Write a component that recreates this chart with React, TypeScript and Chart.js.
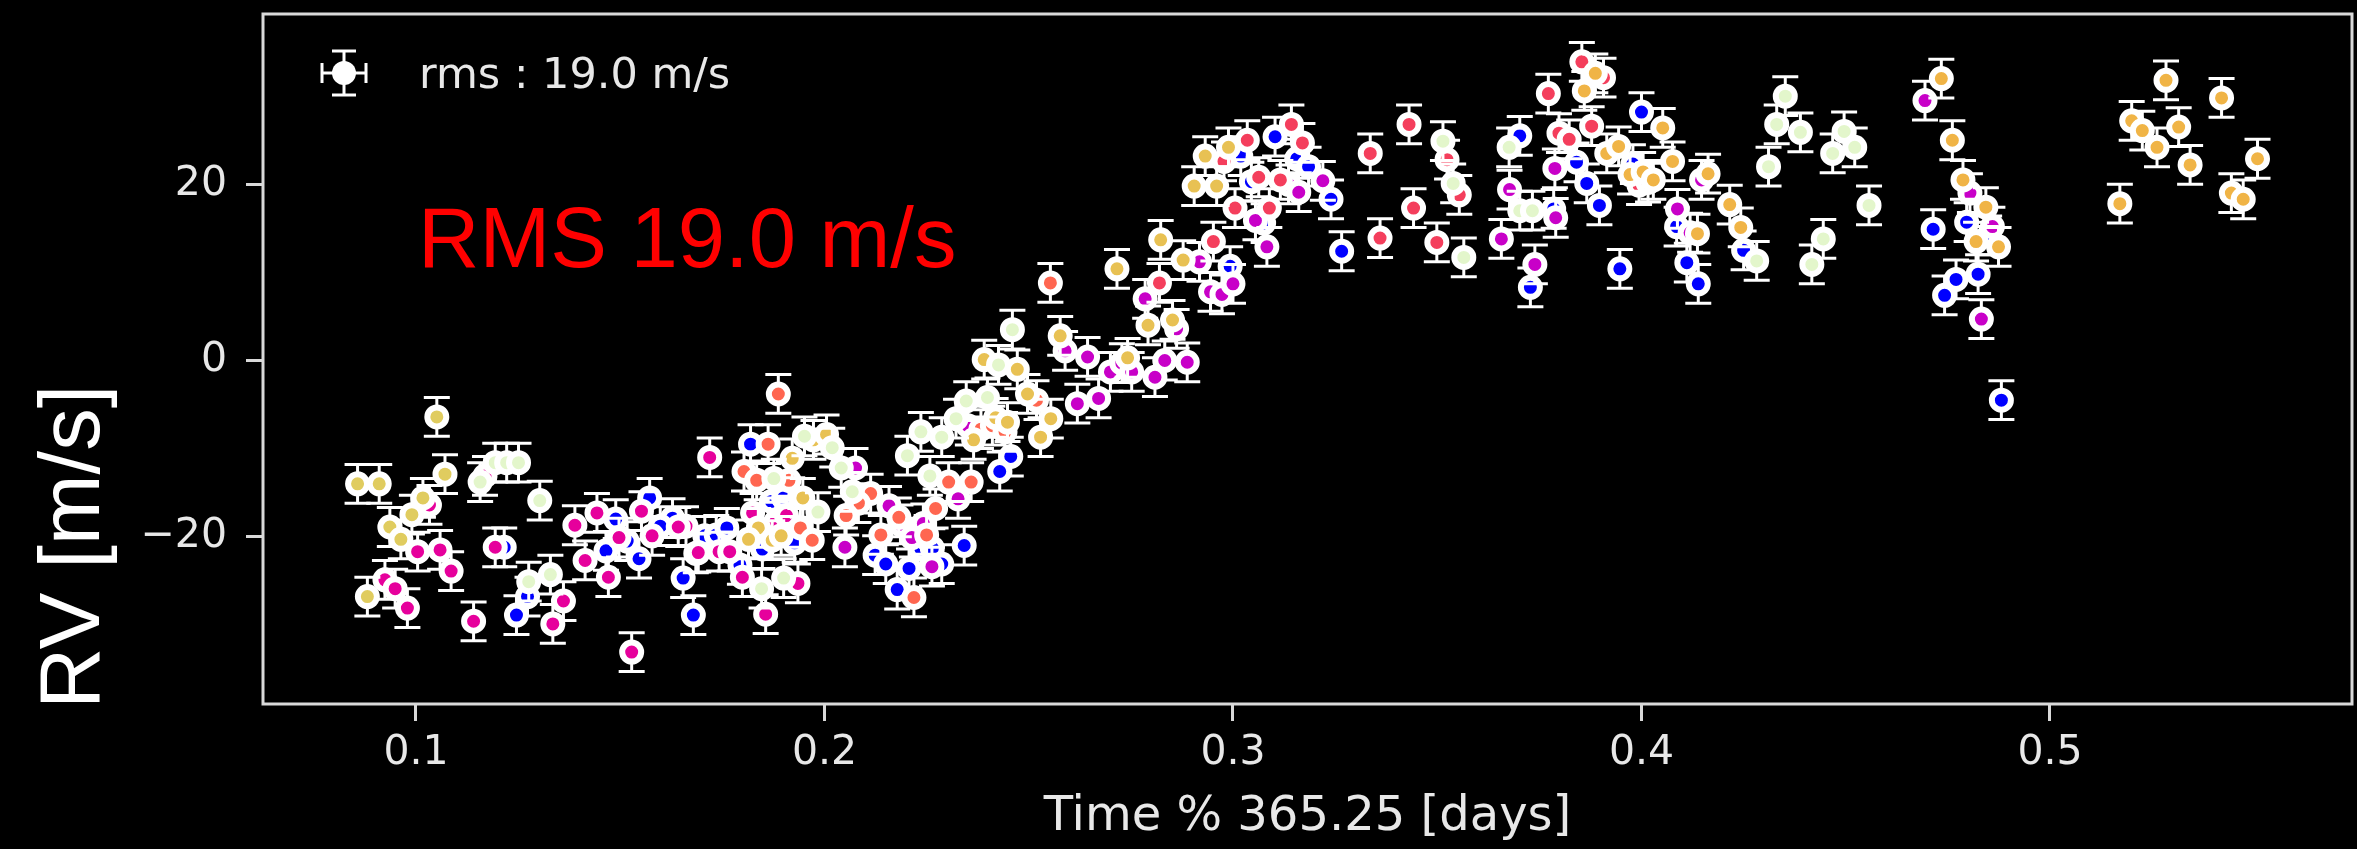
import React, { useEffect, useRef } from 'react';
import { Chart, registerables } from 'chart.js';

Chart.register(...registerables);

// ---- axes ----
const X_TICKS = [0.1, 0.2, 0.3, 0.4, 0.5];
const Y_TICKS = [-20, 0, 20];
const X_MIN = 0.06255;
const X_MAX = 0.57393;
const Y_MIN = -38.99;
const Y_MAX = 39.33;

// ---- texts ----
const X_TITLE = 'Time % 365.25 [days]';
const Y_TITLE = 'RV [m/s]';
const LEGEND_LABEL = 'rms : 19.0 m/s';
const NOTE = 'RMS 19.0 m/s';

// half length of the RV error bars [m/s]
const RV_ERR = 2.2;

// ---- data (time % 365.25, RV) grouped by marker colour ----
const paleGreenTime = [0.1194, 0.1222, 0.1251, 0.1157, 0.1303, 0.1329, 0.1276, 0.246, 0.2426, 0.2347, 0.2399, 0.2322, 0.2236, 0.2287, 0.2203, 0.2258, 0.2041, 0.2068, 0.1951, 0.2019, 0.1876, 0.1984, 0.1846, 0.19, 0.3514, 0.3539, 0.3565, 0.3676, 0.3702, 0.3733, 0.4282, 0.4352, 0.4331, 0.4311, 0.4389, 0.4496, 0.4522, 0.4468, 0.4557, 0.4445, 0.4417];
const paleGreenRv = [-11.6, -11.6, -11.6, -13.8, -15.9, -24.3, -25.1, 3.5, -0.5, -4.6, -4.2, -6.6, -8.1, -8.7, -10.8, -13.1, -12.2, -14.9, -8.6, -9.9, -13.4, -17.2, -25.9, -24.7, 24.9, 20.1, 11.7, 24.2, 17.0, 17.0, 11.3, 30.0, 26.8, 22.0, 25.9, 26.0, 24.2, 23.5, 17.6, 13.8, 10.9];

const yellowTime = [0.1051, 0.0857, 0.091, 0.1071, 0.1017, 0.099, 0.0936, 0.0963, 0.0881];
const yellowRv = [-6.4, -14.0, -14.0, -12.9, -15.6, -17.5, -18.9, -20.3, -26.8];

const goldATime = [0.2391, 0.2472, 0.2497, 0.2554, 0.2529, 0.2419, 0.2448, 0.2365, 0.1973, 0.2005, 0.1921, 0.1947, 0.1838, 0.1814, 0.1872, 0.1894, 0.2716, 0.2577, 0.2742, 0.2792, 0.2852, 0.2823, 0.2878, 0.2905, 0.296, 0.2932, 0.2989];
const goldARv = [0.1, -1.0, -3.8, -6.6, -8.7, -6.5, -7.0, -9.0, -9.0, -8.4, -11.1, -15.6, -19.0, -20.3, -20.4, -19.9, 10.4, 2.8, 0.3, 4.0, 4.6, 13.7, 11.4, 19.8, 19.8, 23.2, 24.2];

const goldBTime = [0.3887, 0.386, 0.3915, 0.3944, 0.3972, 0.4004, 0.4029, 0.4052, 0.4076, 0.4163, 0.4137, 0.4216, 0.4243, 0.4734, 0.4761, 0.4787, 0.4843, 0.4819, 0.4874, 0.5171, 0.5284, 0.542, 0.52, 0.5226, 0.5315, 0.5262, 0.5343, 0.5508, 0.5444, 0.5473];
const goldBRv = [32.6, 30.6, 23.5, 24.3, 21.1, 21.4, 20.5, 26.4, 22.6, 21.2, 14.4, 17.7, 15.1, 32.0, 25.0, 20.5, 17.4, 13.5, 12.9, 17.8, 31.8, 29.8, 27.2, 26.1, 26.5, 24.2, 22.2, 22.9, 19.0, 18.3];

const salmonTime = [0.1887, 0.2553, 0.2519, 0.2383, 0.2411, 0.2442, 0.2304, 0.2359, 0.2272, 0.225, 0.2182, 0.2138, 0.2219, 0.2113, 0.2083, 0.2053, 0.1862, 0.1803, 0.1834, 0.1913, 0.1941, 0.197];
const salmonRv = [-3.8, 8.8, -4.5, -7.8, -7.4, -8.1, -13.8, -13.8, -16.8, -19.8, -17.8, -19.8, -26.9, -15.1, -16.2, -17.6, -9.5, -12.6, -13.6, -13.6, -19.0, -20.4];

const redTime = [0.282, 0.2952, 0.2978, 0.3005, 0.3035, 0.3063, 0.3089, 0.3143, 0.317, 0.3116, 0.3336, 0.3431, 0.3442, 0.336, 0.3524, 0.3554, 0.3499, 0.3772, 0.3854, 0.3907, 0.3878, 0.3798, 0.3823, 0.3994, 0.4016];
const redRv = [8.8, 13.5, 22.6, 17.3, 25.0, 20.8, 17.3, 26.8, 24.7, 20.5, 23.5, 26.8, 17.3, 13.9, 22.8, 18.8, 13.4, 30.3, 33.9, 32.1, 26.6, 25.8, 25.1, 19.9, 20.2];

const pinkTime = [0.1169, 0.1033, 0.1004, 0.1059, 0.1086, 0.0924, 0.0949, 0.0979, 0.1141, 0.1194, 0.1361, 0.1335, 0.1528, 0.1389, 0.1443, 0.1552, 0.1661, 0.1642, 0.1497, 0.1578, 0.1414, 0.1471, 0.1685, 0.1719, 0.1824, 0.1881, 0.1907, 0.1799, 0.1935, 0.1856, 0.1691, 0.1742, 0.1768];
const pinkRv = [-13.1, -16.4, -21.7, -21.5, -23.9, -24.9, -25.9, -28.1, -29.6, -21.2, -27.3, -29.9, -33.1, -18.7, -17.3, -17.1, -18.8, -18.9, -20.1, -19.9, -22.7, -24.6, -21.9, -11.0, -17.3, -18.3, -17.6, -24.6, -25.3, -28.8, -21.8, -21.7, -21.7];

const magentaTime = [0.2351, 0.2327, 0.2242, 0.2186, 0.2158, 0.2214, 0.2263, 0.2076, 0.205, 0.2589, 0.2644, 0.27, 0.2728, 0.2752, 0.2809, 0.2833, 0.2888, 0.2619, 0.2671, 0.2862, 0.2785, 0.2918, 0.2945, 0.2973, 0.3, 0.3055, 0.3083, 0.3136, 0.3161, 0.322, 0.3788, 0.3677, 0.379, 0.3657, 0.3739, 0.4147, 0.4088, 0.4119, 0.4694, 0.4804, 0.4859, 0.4832];
const magentaRv = [-7.4, -15.7, -18.5, -18.6, -16.5, -20.1, -23.4, -12.2, -21.2, 1.1, 0.4, -1.3, -0.3, -1.3, -1.9, 0.0, -0.2, -4.9, -4.3, 3.6, 7.0, 11.2, 7.8, 7.5, 8.7, 15.9, 12.9, 20.0, 19.1, 20.4, 21.8, 19.4, 16.2, 13.8, 10.9, 20.5, 17.2, 14.5, 29.5, 19.0, 15.2, 4.7];

const blueTime = [0.1216, 0.1273, 0.1246, 0.1489, 0.1572, 0.1628, 0.1598, 0.1517, 0.1465, 0.1546, 0.1654, 0.1679, 0.2456, 0.2429, 0.2342, 0.2236, 0.2264, 0.2124, 0.215, 0.2207, 0.2287, 0.2178, 0.1819, 0.187, 0.19, 0.1927, 0.1848, 0.1793, 0.1707, 0.1735, 0.1761, 0.2993, 0.3019, 0.3045, 0.3075, 0.3103, 0.3156, 0.3185, 0.324, 0.3266, 0.3702, 0.3785, 0.3728, 0.3841, 0.3866, 0.3897, 0.3979, 0.4, 0.4086, 0.4111, 0.4139, 0.425, 0.3947, 0.4796, 0.4851, 0.4714, 0.4824, 0.477, 0.4742, 0.4881];
const blueRv = [-21.2, -26.8, -28.9, -18.0, -15.6, -17.9, -18.8, -20.5, -21.6, -22.5, -24.7, -28.9, -10.9, -12.6, -21.0, -21.4, -21.3, -22.1, -23.1, -23.6, -23.1, -26.0, -9.5, -16.0, -15.6, -20.7, -21.4, -23.2, -19.9, -19.8, -19.0, 10.7, 23.2, 20.3, 15.6, 25.4, 22.9, 22.0, 18.3, 12.4, 25.5, 17.2, 8.3, 22.5, 20.1, 17.6, 22.3, 28.2, 15.2, 11.1, 8.7, 12.5, 10.4, 15.7, 14.2, 14.9, 9.8, 9.2, 7.4, -4.5];

const SERIES = [
  { name: 'paleGreen', color: '#e3f6cb', time: paleGreenTime, rv: paleGreenRv },
  { name: 'yellow', color: '#e0cc5f', time: yellowTime, rv: yellowRv },
  { name: 'goldA', color: '#e8c153', time: goldATime, rv: goldARv },
  { name: 'goldB', color: '#f0b446', time: goldBTime, rv: goldBRv },
  { name: 'salmon', color: '#ff6650', time: salmonTime, rv: salmonRv },
  { name: 'red', color: '#f43e5c', time: redTime, rv: redRv },
  { name: 'pink', color: '#e6009c', time: pinkTime, rv: pinkRv },
  { name: 'magenta', color: '#c800c8', time: magentaTime, rv: magentaRv },
  { name: 'blue', color: '#0000ff', time: blueTime, rv: blueRv },
];

const FRAME_COLOR = '#d9d9d9';
const TEXT_COLOR = '#e8e8e8';
const CAP_HALF = 13;

const errorBarPlugin = {
  id: 'errorBars',
  beforeDatasetDraw(chart: any, args: any) {
    const ds = chart.data.datasets[args.index];
    const xs = chart.scales.x;
    const ys = chart.scales.y;
    const ctx = chart.ctx;
    ctx.save();
    ctx.strokeStyle = '#ffffff';
    ctx.lineWidth = 3;
    ds.data.forEach((p: any) => {
      const px = xs.getPixelForValue(p.x);
      const top = ys.getPixelForValue(p.y + RV_ERR);
      const bot = ys.getPixelForValue(p.y - RV_ERR);
      ctx.beginPath();
      ctx.moveTo(px, top);
      ctx.lineTo(px, bot);
      ctx.moveTo(px - CAP_HALF, top);
      ctx.lineTo(px + CAP_HALF, top);
      ctx.moveTo(px - CAP_HALF, bot);
      ctx.lineTo(px + CAP_HALF, bot);
      ctx.stroke();
    });
    ctx.restore();
  },
};

const decorPlugin = {
  id: 'decor',
  afterDraw(chart: any) {
    const ctx = chart.ctx;
    const a = chart.chartArea;
    ctx.save();
    // frame
    ctx.strokeStyle = FRAME_COLOR;
    ctx.lineWidth = 3;
    ctx.strokeRect(a.left, a.top, a.right - a.left, a.bottom - a.top);

    // legend handle (errorbar marker)
    const lx = a.left + 81;
    const ly = a.top + 59;
    ctx.strokeStyle = '#ffffff';
    ctx.lineWidth = 3;
    ctx.beginPath();
    ctx.moveTo(lx, ly - 22);
    ctx.lineTo(lx, ly + 22);
    ctx.moveTo(lx - 12, ly - 22);
    ctx.lineTo(lx + 12, ly - 22);
    ctx.moveTo(lx - 12, ly + 22);
    ctx.lineTo(lx + 12, ly + 22);
    ctx.moveTo(lx - 22, ly);
    ctx.lineTo(lx + 22, ly);
    ctx.moveTo(lx - 22, ly - 10);
    ctx.lineTo(lx - 22, ly + 10);
    ctx.moveTo(lx + 22, ly - 10);
    ctx.lineTo(lx + 22, ly + 10);
    ctx.stroke();
    ctx.fillStyle = '#ffffff';
    ctx.beginPath();
    ctx.arc(lx, ly, 12, 0, Math.PI * 2);
    ctx.fill();

    ctx.fillStyle = TEXT_COLOR;
    ctx.font = '43px "DejaVu Sans"';
    ctx.textAlign = 'left';
    ctx.textBaseline = 'alphabetic';
    ctx.fillText(LEGEND_LABEL, a.left + 156, a.top + 74);

    // red annotation
    ctx.fillStyle = '#ff0000';
    ctx.font = '85px "Liberation Sans"';
    ctx.fillText(NOTE, 418, 267);

    // y title
    ctx.save();
    ctx.translate(99, 709);
    ctx.rotate(-Math.PI / 2);
    ctx.fillStyle = '#ffffff';
    ctx.font = '85px "Liberation Sans"';
    ctx.textAlign = 'left';
    ctx.fillText(Y_TITLE, 0, 0);
    ctx.restore();

    // x title
    ctx.fillStyle = TEXT_COLOR;
    ctx.font = '48px "DejaVu Sans"';
    ctx.textAlign = 'center';
    ctx.textBaseline = 'alphabetic';
    ctx.fillText(X_TITLE, (a.left + a.right) / 2, 830);
    ctx.restore();
  },
};

function fmtY(v: number): string {
  return v < 0 ? '\u2212' + Math.abs(v) : String(v);
}

export default function App() {
  const ref = useRef<HTMLCanvasElement | null>(null);

  useEffect(() => {
    const canvas = ref.current;
    if (!canvas) return;
    const tickFont = { family: '"DejaVu Sans"', size: 41 };
    const gridOpts = {
      display: true,
      drawOnChartArea: false,
      drawTicks: true,
      tickLength: 17,
      tickWidth: 3,
      tickColor: FRAME_COLOR,
    };
    const chart = new Chart(canvas, {
      type: 'scatter',
      data: {
        datasets: SERIES.map((s) => ({
          label: s.name,
          data: s.time.map((t, i) => ({ x: t, y: s.rv[i] })),
          backgroundColor: s.color,
          borderColor: '#ffffff',
          pointRadius: 9.5,
          pointHoverRadius: 9.5,
          pointBorderWidth: 6,
          pointHoverBorderWidth: 6,
          showLine: false,
        })),
      },
      options: {
        animation: false,
        responsive: false,
        maintainAspectRatio: false,
        devicePixelRatio: 1,
        events: [],
        layout: { autoPadding: false, padding: { top: 14, right: 5, left: 0, bottom: 0 } },
        plugins: {
          legend: { display: false },
          tooltip: { enabled: false },
          title: { display: false },
        },
        scales: {
          x: {
            type: 'linear',
            min: X_MIN,
            max: X_MAX,
            afterFit: (s: any) => {
              s.height = 145;
              s.paddingLeft = 0;
              s.paddingRight = 0;
              s.paddingTop = 0;
              s.paddingBottom = 0;
            },
            afterBuildTicks: (s: any) => {
              s.ticks = X_TICKS.map((v) => ({ value: v }));
            },
            ticks: {
              font: tickFont,
              color: TEXT_COLOR,
              padding: 8,
              maxRotation: 0,
              autoSkip: false,
              callback: (v: any) => Number(v).toFixed(1),
            },
            grid: gridOpts,
            border: { display: false },
          },
          y: {
            type: 'linear',
            min: Y_MIN,
            max: Y_MAX,
            afterFit: (s: any) => {
              s.width = 263;
              s.paddingLeft = 0;
              s.paddingRight = 0;
              s.paddingTop = 0;
              s.paddingBottom = 0;
            },
            afterBuildTicks: (s: any) => {
              s.ticks = Y_TICKS.map((v) => ({ value: v }));
            },
            ticks: {
              font: tickFont,
              color: TEXT_COLOR,
              padding: 19,
              autoSkip: false,
              callback: (v: any) => fmtY(Number(v)),
            },
            grid: gridOpts,
            border: { display: false },
          },
        },
      } as any,
      plugins: [errorBarPlugin, decorPlugin],
    });
    return () => chart.destroy();
  }, []);

  return (
    <div
      style={{
        position: 'fixed',
        left: 0,
        top: 0,
        width: 2357,
        height: 849,
        background: '#000000',
        overflow: 'hidden',
      }}
    >
      <canvas ref={ref} width={2357} height={849} style={{ display: 'block', width: 2357, height: 849 }} />
    </div>
  );
}
